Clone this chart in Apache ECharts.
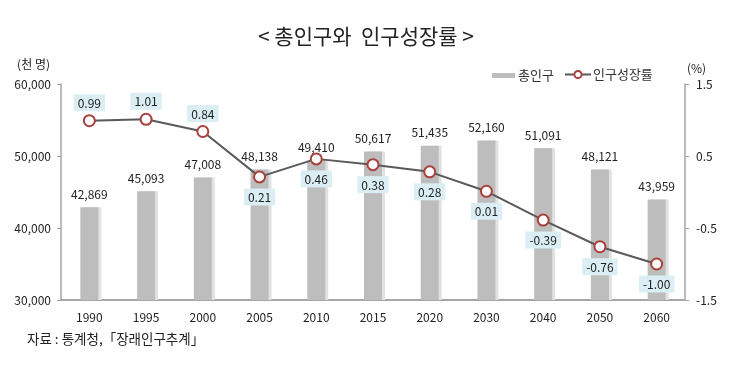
<!DOCTYPE html>
<html>
<head>
<meta charset="utf-8">
<script src="https://cdn.jsdelivr.net/npm/echarts@6/dist/echarts.min.js"></script>
<style>
html,body{margin:0;padding:0;background:#fff;}
#c{width:731px;height:370px;}
</style>
</head>
<body>
<div id="c"></div>
<script>
const years = ['1990','1995','2000','2005','2010','2015','2020','2030','2040','2050','2060'];
const population = [42869, 45093, 47008, 48138, 49410, 50617, 51435, 52160, 51091, 48121, 43959];
const growthRate = [0.99, 1.01, 0.84, 0.21, 0.46, 0.38, 0.28, 0.01, -0.39, -0.76, -1.00];
const labelAbove = [true, true, true, false, false, false, false, false, false, false, false];
const leftTicks = [30000, 40000, 50000, 60000];
const rightTicks = [-1.5, -0.5, 0.5, 1.5];

const FONT = '"Noto Sans CJK KR", "Noto Sans", sans-serif';
const chart = echarts.init(document.getElementById('c'), null, {renderer: 'canvas'});

const fmtThousands = v => String(v).replace(/\B(?=(\d{3})+(?!\d))/g, ',');

const lineData = growthRate.map((v, i) => ({
  value: v,
  label: labelAbove[i] ? {position: 'top', distance: 3} : {position: 'bottom', distance: 5}
}));

chart.setOption({
  animation: false,
  textStyle: {fontFamily: FONT},
  title: {
    text: '< 총인구와  인구성장률 >',
    left: 361, top: 21, textAlign: 'center',
    textStyle: {fontFamily: FONT, fontSize: 21, fontWeight: 'normal', color: '#222'}
  },
  legend: [
    {
      data: [{name: '총인구', icon: 'rect'}],
      left: 487, top: 64, itemWidth: 23, itemHeight: 5, itemGap: 4,
      textStyle: {fontFamily: FONT, fontSize: 13, color: '#333', padding: [0, 0, 0, -2]}
    },
    {
      data: [{name: '인구성장률'}],
      left: 559, top: 63, itemWidth: 26, itemHeight: 9,
      textStyle: {fontFamily: FONT, fontSize: 13, color: '#333', padding: [0, 0, 0, -3]}
    }
  ],
  grid: {left: 61, right: 46, top: 84, bottom: 70, containLabel: false},
  xAxis: {
    type: 'category',
    data: years,
    axisLine: {onZero: false, lineStyle: {color: '#a6a6a6', width: 2}},
    axisTick: {show: false},
    axisLabel: {fontFamily: FONT, fontSize: 12, color: '#222', margin: 11}
  },
  yAxis: [
    {
      type: 'value',
      min: leftTicks[0], max: leftTicks[leftTicks.length - 1], interval: 10000,
      name: '(천 명)', nameLocation: 'end', nameGap: 14,
      nameTextStyle: {fontFamily: FONT, fontSize: 12, color: '#222', align: 'right', padding: [0, 11, 0, 0]},
      axisLine: {show: true, lineStyle: {color: '#a6a6a6', width: 1.5}},
      axisTick: {show: true, length: 4, lineStyle: {color: '#a6a6a6'}},
      splitLine: {show: false},
      axisLabel: {fontFamily: FONT, fontSize: 12, color: '#222', margin: 10, formatter: v => fmtThousands(v)}
    },
    {
      type: 'value',
      min: rightTicks[0], max: rightTicks[rightTicks.length - 1], interval: 1,
      name: '(%)', nameLocation: 'end', nameGap: 10,
      nameTextStyle: {fontFamily: FONT, fontSize: 12, color: '#222', align: 'left', padding: [0, 0, 0, 2]},
      axisLine: {show: true, lineStyle: {color: '#a6a6a6', width: 1.5}},
      axisTick: {show: true, length: 4, lineStyle: {color: '#a6a6a6'}},
      splitLine: {show: false},
      axisLabel: {fontFamily: FONT, fontSize: 12, color: '#222', margin: 11, formatter: v => v.toFixed(1)}
    }
  ],
  series: [
    {
      name: '총인구',
      type: 'bar',
      data: population,
      barWidth: 18,
      itemStyle: {color: '#bdbdbd', shadowColor: '#e2e2e2', shadowOffsetX: 3, shadowBlur: 0},
      label: {
        show: true, position: 'top', distance: 7,
        fontFamily: FONT, fontSize: 12, color: '#222',
        formatter: p => fmtThousands(p.value)
      },
      z: 1
    },
    {
      name: '인구성장률',
      type: 'line',
      yAxisIndex: 1,
      data: lineData,
      symbol: 'circle',
      symbolSize: 11,
      showAllSymbol: true,
      lineStyle: {color: '#595959', width: 2},
      itemStyle: {color: '#ffffff', borderColor: '#a8403c', borderWidth: 2},
      label: {
        show: true,
        fontFamily: FONT, fontSize: 12, color: '#222',
        backgroundColor: '#dbeef4', padding: [3, 4, 2, 4],
        formatter: p => Number(p.value).toFixed(2)
      },
      z: 5
    }
  ],
  graphic: [
    {
      type: 'text', left: 27, top: 332,
      style: {text: '자료 : 통계청,「장래인구추계」', font: '13.5px ' + FONT, fill: '#222'}
    }
  ]
});
</script>
</body>
</html>
